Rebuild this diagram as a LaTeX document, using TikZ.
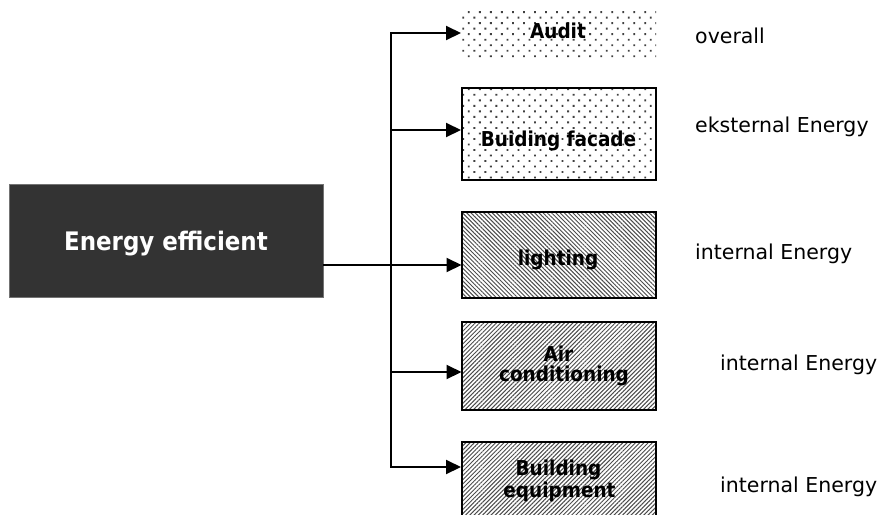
\documentclass[tikz,border=0pt]{standalone}
\usepackage{fontspec}
\setmainfont{DejaVu Sans}
\newfontfamily\boxfont{DejaVu Sans Condensed Bold}
\usetikzlibrary{arrows.meta,patterns.meta}
\definecolor{eefill}{RGB}{51,51,51}
\begin{document}
\begin{tikzpicture}[x=1pt,y=-1pt,
  conn/.style={line width=2pt},
  arr/.style={conn,-{Triangle[length=15pt,width=14pt]}},
  boxshape/.style={rectangle,inner sep=0pt,minimum width=194pt,line width=2pt},
  dotbox/.style={boxshape,pattern={Dots[distance=7.8pt,angle=45,radius=1.3pt]},pattern color=black!75},
  nebox/.style={boxshape,draw,pattern={Lines[angle=45,distance=3pt,line width=1pt]},pattern color=black!70},
  nwbox/.style={boxshape,draw,pattern={Lines[angle=-45,distance=3pt,line width=1pt]},pattern color=black!70},
  lab/.style={anchor=base,inner sep=0pt,font=\boxfont\fontsize{20.5}{17.5}\selectfont},
  note/.style={anchor=base west,inner sep=0pt,font=\fontsize{20.5}{24}\selectfont}
]
\clip (0,0) rectangle (882,514);
\fill[white] (0,0) rectangle (882,514);

% main box
\node[rectangle,inner sep=0pt,minimum width=314pt,minimum height=113pt,fill=eefill,draw=black!55,line width=0.8pt] (ee) at (166,240.5) {};
\node[anchor=base,inner sep=0pt,text=white,font=\boxfont\fontsize{25.5}{28}\selectfont] (eet) at (166,250) {Energy efficient};

% target boxes
\node[dotbox,minimum height=47pt] (au) at (559,33.5) {};
\node[dotbox,draw,minimum height=92pt] (fa) at (559,134) {};
\node[nwbox,minimum height=86pt] (li) at (559,255) {};
\node[nebox,minimum height=88pt] (ac) at (559,366) {};
\node[nebox,minimum height=76pt] (be) at (559,480) {};

% box labels
\node[lab] (aut) at (558,38) {Audit};
\node[lab] (fat) at (558.5,146.5) {Buiding facade};
\node[lab] (lit) at (558,265) {lighting};
\node[lab] (act1) at (558.5,361) {Air};
\node[lab] (act2) at (564,381) {conditioning};
\node[lab] (bet1) at (558.5,475) {Building};
\node[lab] (bet2) at (559.5,497.5) {equipment};

% trunk
\coordinate (t1) at (391,33);
\coordinate (t2) at (391,130);
\coordinate (t3) at (391,265);
\coordinate (t4) at (391,372);
\coordinate (t5) at (391,467);
\draw[conn,line cap=rect] (t1) -- (t5);
\draw[conn] (ee.east |- t3) -- (t3);
\draw[arr] (t1) -- (t1 -| au.west);
\draw[arr] (t2) -- (t2 -| fa.west);
\draw[arr] (t3) -- (t3 -| li.west);
\draw[arr] (t4) -- (t4 -| ac.west);
\draw[arr] (t5) -- (t5 -| be.west);

% right notes
\node[note] (n1) at (695,43) {overall};
\node[note] (n2) at (695,132) {eksternal Energy};
\node[note] (n3) at (695,259) {internal Energy};
\node[note] (n4) at (720,370) {internal Energy};
\node[note] (n5) at (720,492) {internal Energy};
\end{tikzpicture}
\end{document}
